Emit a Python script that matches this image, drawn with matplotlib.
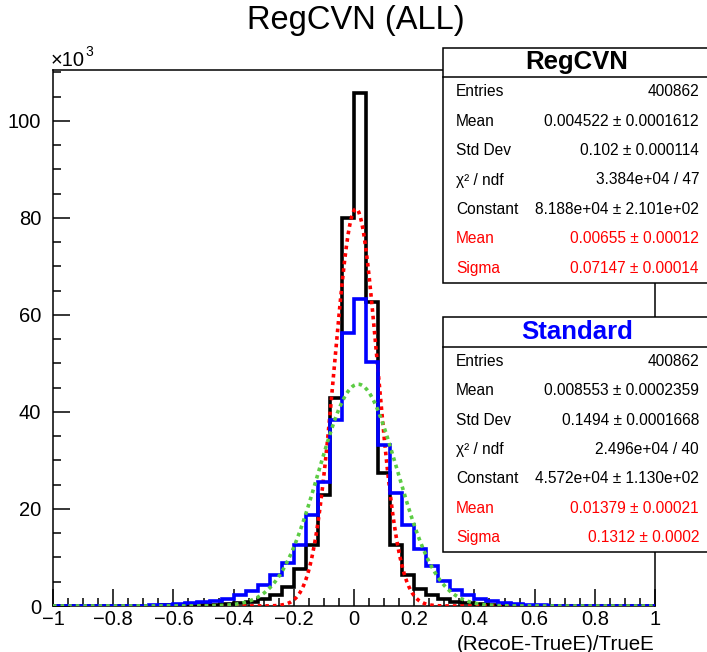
import numpy as np
import matplotlib
matplotlib.use("Agg")
import matplotlib.pyplot as plt
from matplotlib.patches import Rectangle
from matplotlib.ticker import MultipleLocator, FuncFormatter

plt.rcParams['font.family'] = ['Liberation Sans', 'DejaVu Sans']

# 50 bins over (RecoE-TrueE)/TrueE in [-1, 1]; contents in units of 10^3 entries
edges = np.linspace(-1.0, 1.0, 51)

regcvn_k = [0.02, 0.02, 0.03, 0.03, 0.04, 0.05, 0.06, 0.07, 0.09, 0.11,
            0.13, 0.16, 0.20, 0.25, 0.32, 0.55, 0.9, 1.4, 2.3, 4.0,
            7.6, 12.6, 22.9, 42.9, 80.0, 105.8, 62.7, 27.4, 12.5, 6.3,
            3.6, 2.3, 1.4, 0.9, 0.55, 0.35, 0.25, 0.18, 0.13, 0.10,
            0.08, 0.06, 0.05, 0.04, 0.03, 0.03, 0.02, 0.02, 0.02, 0.01]

standard_k = [0.02, 0.02, 0.03, 0.03, 0.04, 0.05, 0.07, 0.10, 0.20, 0.30,
              0.45, 0.6, 0.8, 1.1, 1.5, 2.2, 3.1, 4.4, 6.3, 8.8,
              12.6, 18.8, 25.6, 38.4, 56.3, 63.3, 50.4, 33.2, 23.2, 16.7,
              11.7, 8.3, 5.2, 3.3, 2.3, 1.4, 1.0, 0.7, 0.4, 0.25,
              0.15, 0.10, 0.08, 0.06, 0.05, 0.04, 0.03, 0.02, 0.02, 0.02]

# gaus fit results (Constant, Mean, Sigma)
fit_regcvn = (8.188e4, 0.00655, 0.07147)
fit_standard = (4.572e4, 0.01379, 0.1312)

stats_regcvn = [("Entries", "400862"),
                ("Mean", "0.004522 \u00b1 0.0001612"),
                ("Std Dev", "0.102 \u00b1 0.000114"),
                ("\u03c7\u00b2 / ndf", "3.384e+04 / 47"),
                ("Constant", "8.188e+04 \u00b1 2.101e+02"),
                ("Mean", "0.00655 \u00b1 0.00012"),
                ("Sigma", "0.07147 \u00b1 0.00014")]
stats_standard = [("Entries", "400862"),
                  ("Mean", "0.008553 \u00b1 0.0002359"),
                  ("Std Dev", "0.1494 \u00b1 0.0001668"),
                  ("\u03c7\u00b2 / ndf", "2.496e+04 / 40"),
                  ("Constant", "4.572e+04 \u00b1 1.130e+02"),
                  ("Mean", "0.01379 \u00b1 0.00021"),
                  ("Sigma", "0.1312 \u00b1 0.0002")]

W, H = 707, 652
fig = plt.figure(figsize=(W / 100, H / 100), dpi=100)
ax = fig.add_axes([53 / W, 1 - 606 / H, (655 - 53) / W, (606 - 70) / H])


def gaus(x, p):
    c, m, s = p
    return c * np.exp(-0.5 * ((x - m) / s) ** 2)


xf = np.linspace(-1, 1, 1000)
ax.stairs(np.array(regcvn_k) * 1e3, edges, color='black', lw=2.6, zorder=3)
ax.plot(xf, gaus(xf, fit_regcvn), color='red', lw=2.6,
        linestyle=(0, (1, 1.1)), zorder=4)
ax.stairs(np.array(standard_k) * 1e3, edges, color='blue', lw=2.6, zorder=5)
ax.plot(xf, gaus(xf, fit_standard), color='#5ccc44', lw=2.6,
        linestyle=(0, (1, 1.1)), zorder=6)

ax.set_xlim(-1, 1)
ax.set_ylim(0, 110500)
ax.xaxis.set_major_locator(MultipleLocator(0.2))
ax.xaxis.set_minor_locator(MultipleLocator(0.05))
ax.yaxis.set_major_locator(MultipleLocator(20000))
ax.yaxis.set_minor_locator(MultipleLocator(5000))
ax.xaxis.set_major_formatter(FuncFormatter(lambda v, _: "0" if abs(v) < 1e-9 else f"{v:g}".replace("-", "\u2212")))
ax.yaxis.set_major_formatter(FuncFormatter(lambda v, _: f"{v / 1000:.0f}"))
ax.tick_params(which='both', direction='in', top=False, right=False,
               labelsize=14.5, width=1.1)
ax.tick_params(which='major', length=12)
ax.tick_params(which='minor', length=6)
ax.tick_params(axis='x', which='major', pad=3)
ax.tick_params(axis='y', which='major', pad=8.5)
for sp in ax.spines.values():
    sp.set_linewidth(1.1)

fig.text(51 / W, 1 - 66 / H, "\u00d710", fontsize=14.5, ha='left', va='baseline')
fig.text(85 / W, 1 - 56 / H, "3", fontsize=10, ha='left', va='baseline')

fig.text(356 / W, 1 - 21 / H, "RegCVN (ALL)", fontsize=23.5, ha='center', va='center')
fig.text(654 / W, 1 - 644 / H, "(RecoE-TrueE)/TrueE", fontsize=14.8,
         ha='right', va='center')


def stat_box(top, header_bot, bottom, title, title_color, rows):
    x0, x1 = 443, 709
    fig.add_artist(Rectangle((x0 / W, 1 - bottom / H), (x1 - x0) / W,
                             (bottom - top) / H, transform=fig.transFigure,
                             facecolor='white', edgecolor='black', lw=1.1,
                             zorder=10))
    fig.add_artist(plt.Line2D([x0 / W, x1 / W], [1 - header_bot / H] * 2,
                              transform=fig.transFigure, color='black',
                              lw=1.1, zorder=11))
    fig.text(577 / W, 1 - (top + header_bot) / 2 / H, title, color=title_color,
             fontsize=18.5, fontweight='bold', ha='center', va='center', zorder=12)
    step = (bottom - header_bot) / len(rows)
    for i, (lab, val) in enumerate(rows):
        y = 1 - (header_bot + step * (i + 0.5)) / H
        col = 'red' if i >= 5 else 'black'
        fig.text(456 / W, y, lab, fontsize=11.2, color=col, ha='left',
                 va='center', zorder=12)
        fig.text(699 / W, y, val, fontsize=11.2, color=col, ha='right',
                 va='center', zorder=12)


stat_box(48, 77, 283, "RegCVN", 'black', stats_regcvn)
stat_box(317, 347, 552, "Standard", 'blue', stats_standard)

fig.savefig("out.png", dpi=100)
